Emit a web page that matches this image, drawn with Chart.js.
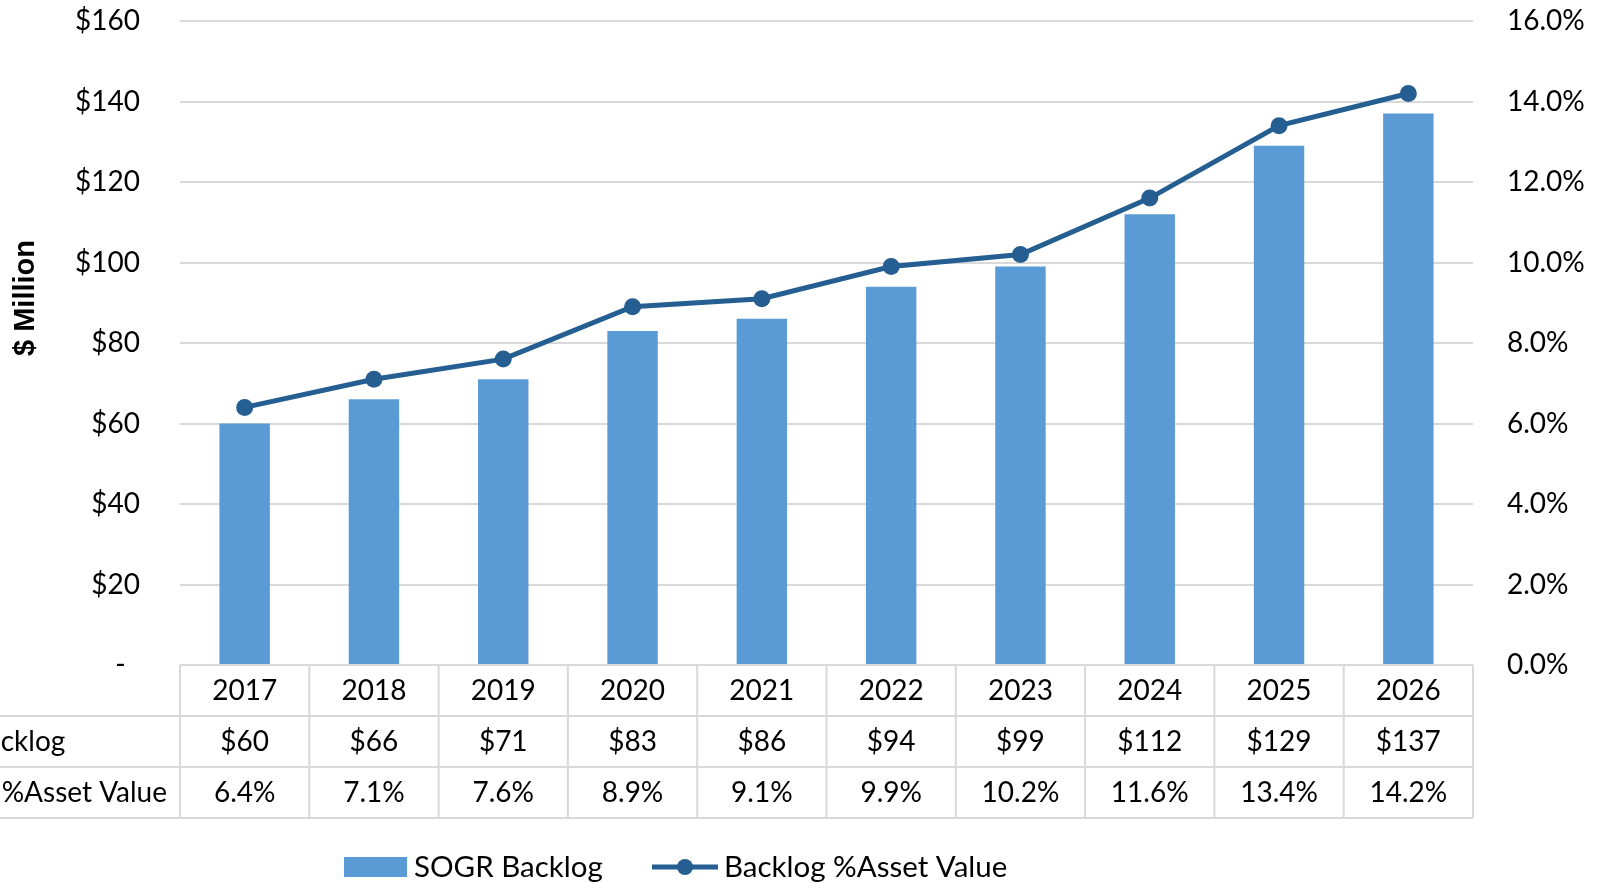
<!DOCTYPE html>
<html>
<head>
<meta charset="utf-8">
<script src="https://cdn.jsdelivr.net/npm/chart.js@4.4.1/dist/chart.umd.min.js"></script>
<style>
  html, body { margin: 0; padding: 0; background: #fff; }
  #wrap { width: 1606px; height: 883px; position: relative; }
</style>
</head>
<body>
<div id="wrap"><canvas id="chart"></canvas></div>
<script>
const years = ["2017", "2018", "2019", "2020", "2021", "2022", "2023", "2024", "2025", "2026"];
const backlog = [60, 66, 71, 83, 86, 94, 99, 112, 129, 137];
const backlogPct = [6.4, 7.1, 7.6, 8.9, 9.1, 9.9, 10.2, 11.6, 13.4, 14.2];
const seriesNames = ["SOGR Backlog", "Backlog %Asset Value"];
const axisTitle = "$ Million";

const barColor = "#5B9BD5";
const lineColor = "#255E91";
const gridColor = "#D9D9D9";
const font = "Lato";

// data table under the plot, plus legend and the y title
const tablePlugin = {
  id: "dataTable",
  afterDraw(chart) {
    const ctx = chart.ctx;
    const area = chart.chartArea;
    const x = chart.scales.x;
    const step = x.getPixelForValue(1) - x.getPixelForValue(0);
    const top = area.bottom;
    const rowH = 51;

    ctx.save();
    ctx.strokeStyle = gridColor;
    ctx.lineWidth = 2;
    ctx.beginPath();
    ctx.moveTo(area.left, top);
    ctx.lineTo(area.right, top);
    for (let r = 1; r <= 3; r++) {
      ctx.moveTo(0, top + r * rowH);
      ctx.lineTo(area.right, top + r * rowH);
    }
    for (let i = 0; i <= years.length; i++) {
      const xx = x.getPixelForValue(i) - step / 2;
      ctx.moveTo(xx, top);
      ctx.lineTo(xx, top + 3 * rowH);
    }
    ctx.stroke();

    ctx.fillStyle = "#000";
    ctx.font = `28px ${font}`;
    ctx.textAlign = "center";
    ctx.textBaseline = "middle";
    years.forEach((y, i) => {
      const cx = x.getPixelForValue(i);
      ctx.fillText(y, cx, top + rowH * 0.5);
      ctx.fillText("$" + backlog[i], cx, top + rowH * 1.5);
      ctx.fillText(backlogPct[i].toFixed(1) + "%", cx, top + rowH * 2.5);
    });

    // row labels, clipped at the left edge like the original
    ctx.textAlign = "left";
    const start = 170 - ctx.measureText(seriesNames[1]).width - 3;
    ctx.fillText(seriesNames[0], start - 12, top + rowH * 1.5);
    ctx.fillText(seriesNames[1], start, top + rowH * 2.5);

    // legend
    const ly = 867;
    ctx.font = `29.5px ${font}`;
    ctx.fillStyle = barColor;
    ctx.fillRect(344, ly - 10, 63, 20);
    ctx.fillStyle = "#000";
    ctx.fillText(seriesNames[0], 414, ly);
    ctx.strokeStyle = lineColor;
    ctx.lineWidth = 5;
    ctx.beginPath();
    ctx.moveTo(652, ly);
    ctx.lineTo(718, ly);
    ctx.stroke();
    ctx.fillStyle = lineColor;
    ctx.beginPath();
    ctx.arc(685, ly, 8, 0, Math.PI * 2);
    ctx.fill();
    ctx.fillStyle = "#000";
    ctx.fillText(seriesNames[1], 724, ly);

    // y axis title
    ctx.translate(26, 298);
    ctx.rotate(-Math.PI / 2);
    ctx.textAlign = "center";
    ctx.font = "bold 29px 'Liberation Sans'";
    ctx.fillText(axisTitle, 0, 0);
    ctx.restore();
  },
};

const ctx = document.getElementById("chart").getContext("2d");

new Chart(ctx, {
  type: "bar",
  data: {
    labels: years,
    datasets: [
      {
        type: "line",
        label: seriesNames[1],
        data: backlogPct,
        yAxisID: "y1",
        borderColor: lineColor,
        backgroundColor: lineColor,
        borderWidth: 5,
        pointRadius: 8.5,
        pointHoverRadius: 8.5,
        pointBorderWidth: 0,
        tension: 0,
        order: 0,
      },
      {
        label: seriesNames[0],
        data: backlog,
        yAxisID: "y",
        backgroundColor: barColor,
        categoryPercentage: 1,
        barPercentage: 0.39,
        order: 1,
      },
    ],
  },
  options: {
    responsive: true,
    maintainAspectRatio: false,
    animation: false,
    layout: { padding: { top: 21, bottom: 218, left: 0, right: 0 } },
    plugins: {
      legend: { display: false },
      tooltip: { enabled: false },
    },
    scales: {
      x: { display: false },
      y: {
        position: "left",
        min: 0,
        max: 160,
        ticks: {
          stepSize: 20,
          padding: 40,
          color: "#000",
          font: { family: font, size: 28 },
          callback: (v) => (v === 0 ? "-  " : "$" + v),
        },
        grid: { color: gridColor, lineWidth: 2, drawTicks: false },
        border: { display: false },
        afterFit: (s) => { s.width = 180; s.paddingTop = 0; s.paddingBottom = 0; },
      },
      y1: {
        position: "right",
        min: 0,
        max: 16,
        ticks: {
          stepSize: 2,
          padding: 34,
          color: "#000",
          font: { family: font, size: 28 },
          callback: (v) => v.toFixed(1) + "%",
        },
        grid: { display: false, drawTicks: false },
        border: { display: false },
        afterFit: (s) => { s.width = 133; s.paddingTop = 0; s.paddingBottom = 0; },
      },
    },
  },
  plugins: [tablePlugin],
});
</script>
</body>
</html>
